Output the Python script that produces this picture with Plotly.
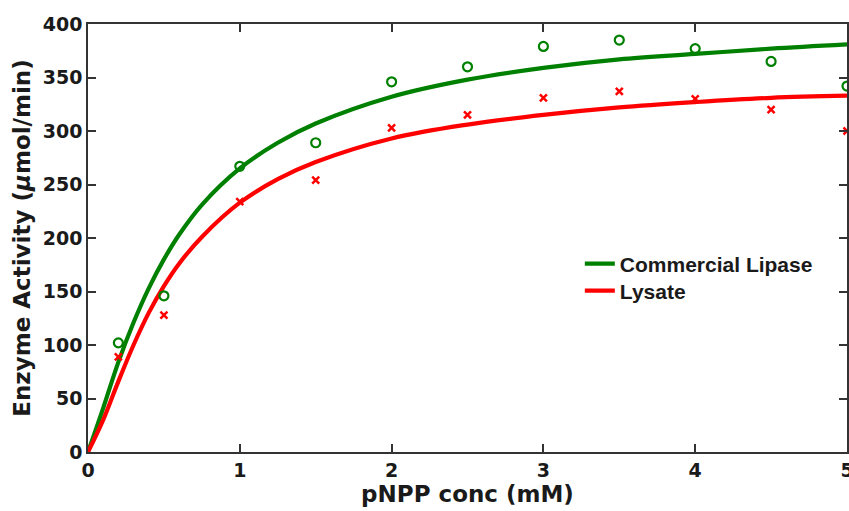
import plotly.graph_objects as go

# Measured data points
conc = [0.2, 0.5, 1, 1.5, 2, 2.5, 3, 3.5, 4, 4.5, 5]
commercial_pts = [102, 146, 267, 289, 346, 360, 379, 385, 377, 365, 342]
lysate_pts = [89, 128, 234, 254, 303, 315, 331, 337, 330, 320, 300]

# Fitted curves
fit_x = [0, 0.1, 0.2, 0.3, 0.4, 0.5, 0.6, 0.75, 1, 1.25, 1.5, 2, 2.5, 3, 3.5, 4, 4.5, 5]
commercial_fit = [0, 41, 84, 121, 153, 180, 203, 231, 265, 289, 307, 332, 348, 359, 367, 372, 377, 381]
lysate_fit = [0, 30, 66, 100, 130, 155, 176, 201, 233, 255, 271, 293, 306, 315, 322, 327, 331, 333]

x_ticks = [0, 1, 2, 3, 4, 5]
y_ticks = [0, 50, 100, 150, 200, 250, 300, 350, 400]

GREEN = "#008000"
RED = "#ff0000"
AXFONT = "DejaVu Sans"
TXT = "#1a1a1a"

fig = go.Figure()
fig.add_trace(go.Scatter(x=fit_x, y=commercial_fit, mode="lines", name="Commercial Lipase",
                         legend="legend",
                         line=dict(color=GREEN, width=4.2, shape="spline")))
fig.add_trace(go.Scatter(x=fit_x, y=lysate_fit, mode="lines", name="Lysate",
                         legend="legend2",
                         line=dict(color=RED, width=4.2, shape="spline")))
fig.add_trace(go.Scatter(x=conc, y=commercial_pts, mode="markers", showlegend=False,
                         marker=dict(symbol="circle-open", size=9, color=GREEN,
                                     line=dict(color=GREEN, width=2.2))))
fig.add_trace(go.Scatter(x=conc, y=lysate_pts, mode="markers", showlegend=False,
                         marker=dict(symbol="x-thin-open", size=7, color=RED,
                                     line=dict(color=RED, width=2.5))))

axis_common = dict(
    showline=True, linecolor="#333333", linewidth=1.6, mirror="ticks",
    ticks="inside", ticklen=8, tickwidth=1.6, tickcolor="#333333",
    showgrid=False, zeroline=False,
    tickfont=dict(family=AXFONT, size=19, color=TXT, weight="bold"),
    ticklabeloverflow="allow",
    automargin=False,
)

leg_common = dict(xanchor="left", yanchor="middle", bgcolor="rgba(0,0,0,0)", itemwidth=30,
                  font=dict(family="Liberation Sans", size=21, color=TXT, weight="bold"))

fig.update_layout(
    width=849, height=511,
    margin=dict(l=88, r=2, t=24, b=59),
    paper_bgcolor="white", plot_bgcolor="white",
    xaxis=dict(range=[0, 5], tickvals=x_ticks, ticktext=[str(v) for v in x_ticks],
               title=dict(text="pNPP conc (mM)",
                          font=dict(family=AXFONT, size=23, color=TXT, weight="bold"),
                          standoff=4),
               **axis_common),
    yaxis=dict(range=[0, 400], tickvals=y_ticks, ticktext=[str(v) for v in y_ticks],
               title=dict(text="Enzyme Activity (<i>μ</i>mol/min)",
                          font=dict(family=AXFONT, size=23, color=TXT, weight="bold"), standoff=6),
               **axis_common),
    legend=dict(x=0.648, y=(452 - 264) / 428, **leg_common),
    legend2=dict(x=0.648, y=(452 - 291) / 428, **leg_common),
    showlegend=True,
)

fig.write_html("out.html")
